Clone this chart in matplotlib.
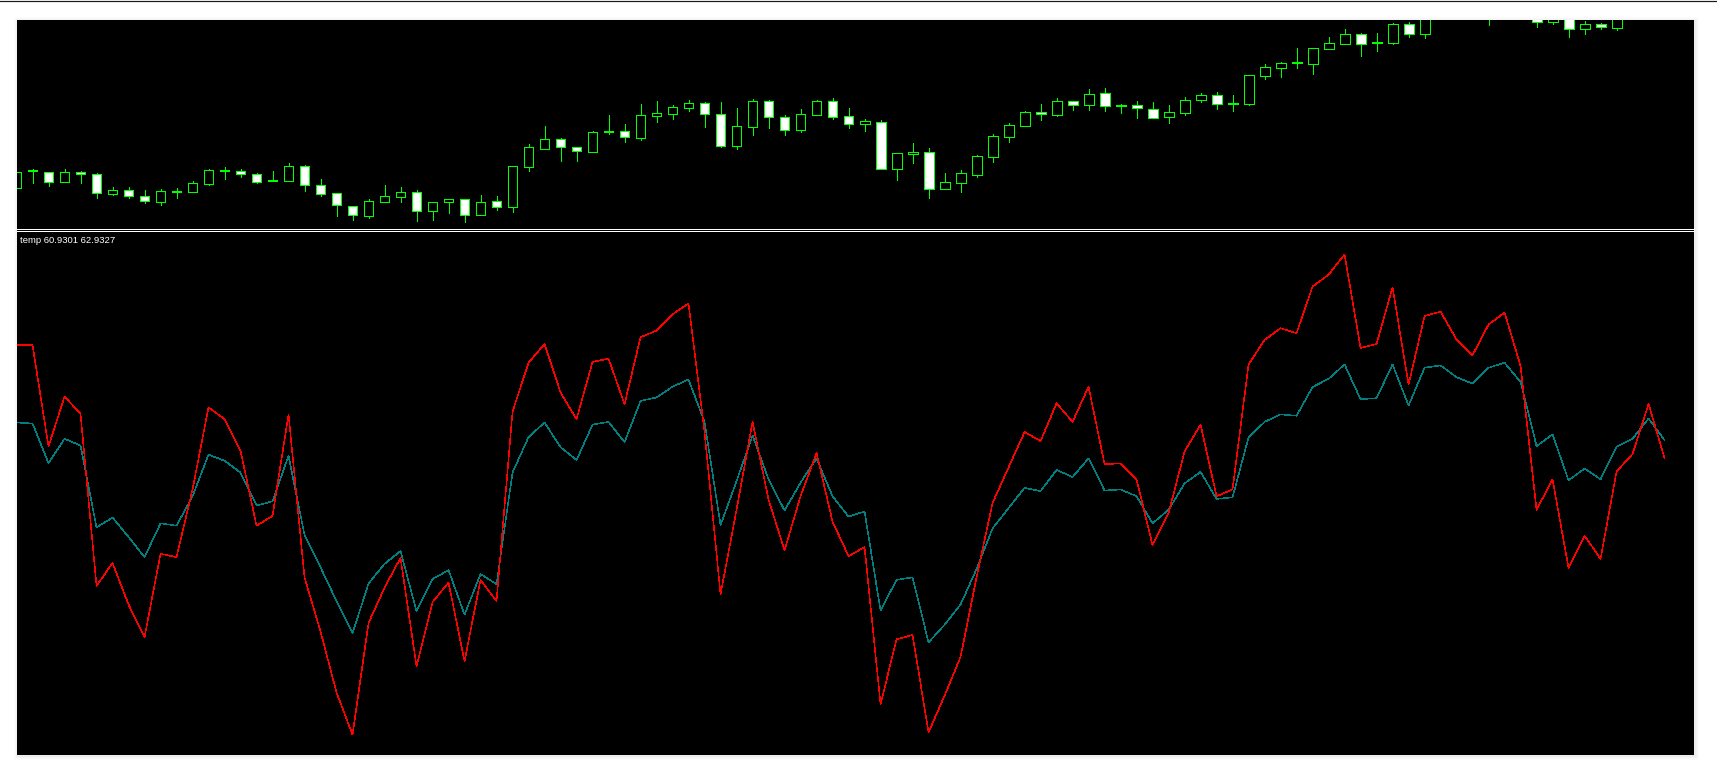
import numpy as np
import matplotlib
matplotlib.use("Agg")
import matplotlib.pyplot as plt
from matplotlib.patches import Rectangle
from matplotlib.lines import Line2D

# --- price candles (points; nan = bar hidden above the window) ---
nan = np.nan
opens = [42.3, 59, 57.7, 48.3, 57.7, 55.7, 36.3, 39.7, 33.7, 28.3,
         38.3, 37.7, 46.3, 59.3, 58.7, 55.7, 49.3, 49.3, 63.7, 44.7,
         36.7, 23.7, 14.3, 27.7, 33.3, 37.7, 18.7, 27.7, 30.7, 15.3,
         28.7, 23.3, 63.3, 81.3, 90.7, 82.7, 78.3, 98.3, 98.7, 92.3,
         114.3, 116.3, 122.3, 126.7, 115.7, 84.3, 103.3, 128.7, 112.7, 100.3,
         115.3, 128.7, 113.7, 105.7, 107.7, 61.3, 75.7, 77.7, 40.7, 47.3,
         55.3, 73.3, 93.3, 104.3, 117.7, 115.3, 128.7, 125.3, 136.7, 124.3,
         124.7, 121.3, 112.7, 117.3, 129.7, 134.7, 126.3, 126.3, 154.3, 162.3,
         166.7, 166.3, 181.3, 186.3, 195.7, 187, 187, 205.7, 195.7, nan,
         nan, nan, 222, nan, nan, 220, 207.7, 215, 201.3, 205.7,
         202.3]
highs = [57.7, 61, 57.7, 61, 59, 56.7, 42.7, 42.7, 39.7, 41,
         42, 49, 61, 63, 61, 57, 59, 67, 65, 51,
         36.7, 23.7, 31, 45, 43, 40, 27.7, 30.7, 30.7, 34.7,
         33.7, 63.7, 85.7, 104, 91.7, 82.7, 98.7, 115, 105.7, 125.7,
         128.7, 124.7, 129.7, 127.7, 127.7, 121.7, 130.7, 129.7, 114.7, 120.7,
         129.7, 131.7, 121.7, 110.7, 109.7, 76.7, 87, 81.7, 57, 60,
         75, 96, 106.7, 118.7, 126, 131.7, 128.7, 141, 141.7, 125.7,
         128.7, 127.7, 124.7, 132.7, 136.7, 137.7, 134.7, 154.7, 165.7, 168,
         182, 181.7, 193, 201, 196.7, 197, 206.7, 207.7, 220, nan,
         nan, nan, 228, nan, nan, 225, 222, 218, 209, 206.7,
         216]
lows = [42.3, 47.3, 44.3, 48.3, 47.3, 32.3, 35, 32.3, 27.3, 25.3,
        32.3, 37.7, 45, 51.3, 53.3, 47.3, 49.3, 49.3, 39.3, 34.3,
        14.3, 10.3, 12.3, 27.7, 28.3, 9.3, 10.3, 17.3, 8.3, 15.3,
        20.3, 18.3, 59.3, 81.3, 69.3, 69.3, 78.3, 95.7, 88.3, 90.3,
        108.3, 111.3, 119.3, 103.3, 83.3, 81.3, 95.3, 102.3, 95.3, 98.3,
        115.3, 111.3, 102.3, 99.3, 61.3, 50.3, 67.3, 32.3, 40.7, 38.3,
        53.3, 68.3, 88.3, 104.3, 110, 114.3, 120.3, 120, 119.3, 117.3,
        112.3, 111.7, 107.3, 115.3, 128.3, 121.3, 119.3, 124.7, 151.3, 153.3,
        162.3, 156.3, 181.3, 186.3, 174.3, 179.3, 186, 193.3, 192.3, nan,
        nan, nan, 205.3, nan, nan, 203.3, 206, 193.3, 196.3, 201.3,
        200.3]
closes = [57.7, 59, 48.3, 57.7, 55.7, 36.7, 39.7, 33.7, 28.7, 38.7,
          38.3, 46.7, 59.7, 59.3, 55.7, 48.3, 49.3, 63.7, 44.7, 36.3,
          24.7, 14.7, 28.7, 33.7, 37.7, 18.7, 27.7, 30.7, 15.3, 27.7,
          23.3, 63.7, 82.7, 90.7, 82.7, 78.7, 97.7, 98.3, 92.7, 114.7,
          116.7, 122.7, 126.7, 115.7, 84.3, 103.7, 128.7, 112.7, 100.3, 115.7,
          128.7, 113.3, 105.7, 108.7, 61.3, 76.7, 77.7, 40.7, 47.7, 56.7,
          73.7, 93.7, 104.7, 117.7, 115.7, 128.7, 124.7, 135.7, 123.7, 124.3,
          121.7, 111.7, 117.7, 129.7, 134.7, 125.7, 126.3, 154.7, 162.7, 166.7,
          166.7, 181.7, 186.7, 195.7, 186.3, 187, 205.7, 195.7, 216, nan,
          nan, nan, 214, nan, nan, 207.7, 218, 201.3, 205.7, 202.7,
          214]

# --- "temp" indicator, two buffers ---
temp_fast = [73.49, 73.49, 62.23, 67.79, 65.87, 46.77, 49.32, 44.70, 41.06, 50.33,
             49.96, 57.47, 66.59, 65.27, 61.78, 53.45, 54.54, 65.80, 47.71, 41.70,
             34.94, 30.25, 42.64, 46.58, 49.88, 37.83, 44.97, 47.14, 38.40, 47.44,
             45.08, 66.10, 71.54, 73.61, 68.24, 65.27, 71.62, 71.99, 66.93, 74.36,
             75.11, 76.91, 78.11, 63.85, 45.83, 55.21, 64.97, 56.34, 50.71, 56.72,
             61.52, 53.90, 50.07, 51.08, 33.63, 40.84, 41.32, 30.51, 34.57, 38.88,
             47.71, 55.96, 59.91, 63.85, 62.83, 67.04, 64.97, 68.88, 60.28, 60.36,
             58.59, 51.27, 54.84, 61.67, 64.67, 56.72, 57.47, 71.35, 74.06, 75.37,
             74.81, 79.99, 81.30, 83.55, 73.16, 73.61, 79.91, 69.10, 76.72, 77.21,
             74.10, 72.37, 75.78, 77.10, 71.17, 55.21, 58.59, 48.76, 52.32, 49.77,
             59.46, 61.41, 66.96, 60.9301]
temp_slow = [64.90, 64.79, 60.39, 63.10, 62.35, 53.26, 54.35, 52.21, 49.96, 53.71,
             53.45, 56.72, 61.33, 60.66, 59.34, 55.70, 56.15, 61.22, 52.40, 48.83,
             45.08, 41.51, 47.03, 49.21, 50.63, 43.95, 47.52, 48.53, 43.58, 48.08,
             46.96, 59.34, 63.28, 64.90, 62.16, 60.73, 64.67, 64.97, 62.72, 67.30,
             67.68, 68.88, 69.67, 64.97, 53.52, 58.40, 63.47, 58.59, 55.14, 58.22,
             60.92, 56.72, 54.46, 55.03, 44.03, 47.44, 47.71, 40.50, 42.45, 44.70,
             48.64, 53.15, 55.40, 57.65, 57.28, 59.64, 58.85, 60.92, 57.35, 57.47,
             56.72, 53.71, 55.21, 58.14, 59.42, 56.42, 56.60, 63.25, 64.97, 65.80,
             65.65, 68.84, 69.74, 71.35, 67.49, 67.60, 71.35, 66.78, 70.98, 71.24,
             69.93, 69.22, 70.98, 71.54, 69.40, 62.27, 63.58, 58.48, 59.79, 58.59,
             62.23, 63.10, 65.35, 62.9327]
label = "temp 60.9301 62.9327"

# --- layout in pixels ---
W, H = 1717, 775
L, R, T, B = 17, 1694, 20, 755
MAIN_BOT, SUB_TOP = 228, 231.5
GREEN = "#00ff00"
PX = 72 / 100  # one pixel in points

fig = plt.figure(figsize=(W / 100, H / 100), dpi=100, facecolor="white")

def fx(p):
    return p / W

def fy(p):
    return 1 - p / H

# soft shadow round the chart window (mostly right and below)
for d, a in [(5, 0.012), (4, 0.015), (3, 0.02), (2, 0.025)]:
    fig.patches.append(Rectangle((fx(L - d + 2), fy(B + d)), (R - L + 2 * d - 2) / W, (B - T + 2 * d - 2) / H,
                                 transform=fig.transFigure, facecolor="black", alpha=a,
                                 edgecolor="none", zorder=0))
fig.patches.append(Rectangle((fx(L), fy(B)), (R - L) / W, (B - T) / H, transform=fig.transFigure,
                             facecolor="black", edgecolor="none", zorder=1))
fig.add_artist(Line2D([0, 1], [fy(0.5), fy(0.5)], color="#1a1a1a", lw=1.2 * PX))

ax = fig.add_axes([fx(L), fy(MAIN_BOT), (R - L) / W, (MAIN_BOT - T) / H])
ax2 = fig.add_axes([fx(L), fy(B), (R - L) / W, (B - SUB_TOP) / H])
for a in (ax, ax2):
    a.set_zorder(3)
    a.set_facecolor("black")
    a.set_axis_off()
    a.set_xlim(0.03, 104.84)

# --- candles ---
o = np.array(opens, float)
h = np.array(highs, float)
lo = np.array(lows, float)
c = np.array(closes, float)
x = np.arange(len(o))
ok = ~np.isnan(o)
ax.vlines(x[ok], lo[ok], h[ok], color=GREEN, lw=PX, zorder=1, antialiased=False)
bull = ok & (c >= o)
bear = ok & (c < o)
bottom = np.minimum(o, c)
height = np.maximum(np.abs(c - o), 1.0)
ax.bar(x[bull], height[bull], bottom=bottom[bull], width=0.62, color="black",
       edgecolor=GREEN, linewidth=PX, zorder=2, antialiased=False)
ax.bar(x[bear], height[bear], bottom=bottom[bear], width=0.62, color="white",
       edgecolor=GREEN, linewidth=PX, zorder=2, antialiased=False)
ax.set_ylim(2, 210)

# --- indicator window ---
xi = np.arange(len(temp_fast))
ax2.plot(xi, temp_slow, color="#008080", lw=0.5 * PX, antialiased=False)
ax2.plot(xi, temp_fast, color="#ff0000", lw=0.5 * PX, antialiased=False)
ax2.set_ylim(28.0, 86.1)

# window separator
for yy in (228.6, 230.6):
    fig.add_artist(Line2D([fx(L), fx(R)], [fy(yy), fy(yy)], color="white", lw=PX, zorder=5))

fig.text(fx(20), fy(235.5), label, color="white", fontsize=6.8, family="Liberation Sans",
         ha="left", va="top", zorder=6)

fig.savefig("out.png", dpi=100, facecolor="white")
